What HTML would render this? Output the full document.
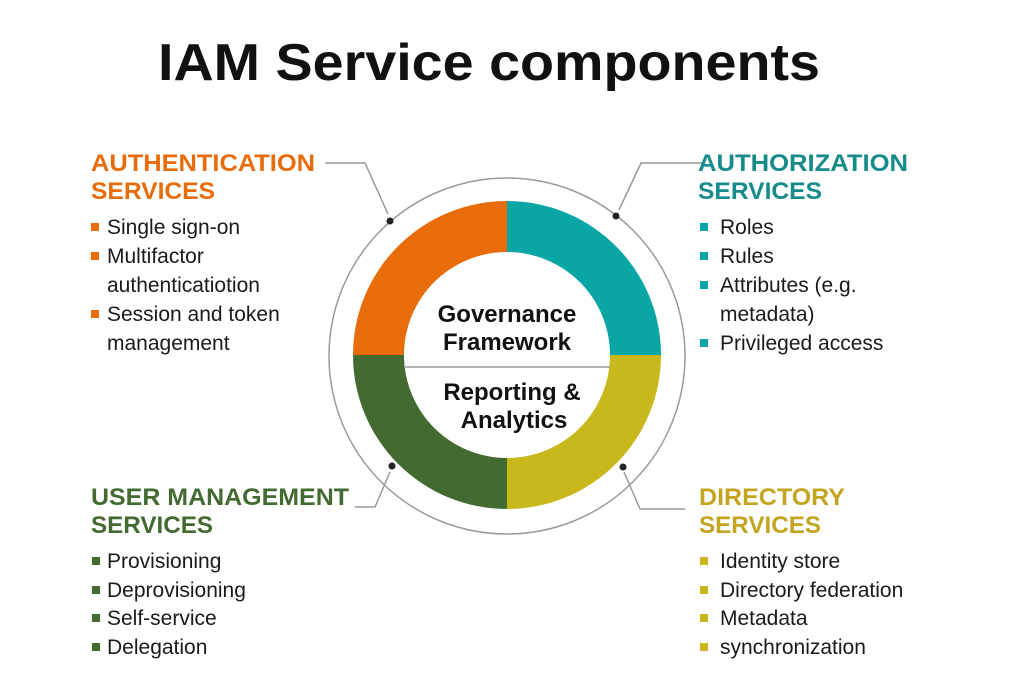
<!DOCTYPE html>
<html><head><meta charset="utf-8"><style>
html,body{margin:0;padding:0;background:#fff}
svg{display:block}
text{font-family:"Liberation Sans",Arial,sans-serif}
.h{font-weight:bold;font-size:24px}
.i{font-size:21px;fill:#1a1a1a}
.c{font-weight:bold;font-size:24px;fill:#111;text-anchor:middle}
</style></head><body>
<svg width="1024" height="683" viewBox="0 0 1024 683" xmlns="http://www.w3.org/2000/svg">
<text x="489" y="80" text-anchor="middle" font-weight="bold" font-size="52" fill="#111" textLength="662" lengthAdjust="spacingAndGlyphs">IAM Service components</text>

<circle cx="507" cy="356" r="178" fill="none" stroke="#9a9a9a" stroke-width="1.5"/>
<path d="M353,355 A154,154 0 0 1 507,201 L507,252 A103,103 0 0 0 404,355 Z" fill="#e86c0a"/>
<path d="M507,201 A154,154 0 0 1 661,355 L610,355 A103,103 0 0 0 507,252 Z" fill="#0aa6a6"/>
<path d="M661,355 A154,154 0 0 1 507,509 L507,458 A103,103 0 0 0 610,355 Z" fill="#c9b81c"/>
<path d="M507,509 A154,154 0 0 1 353,355 L404,355 A103,103 0 0 0 507,458 Z" fill="#436a30"/>
<line x1="404" y1="367" x2="610" y2="367" stroke="#999" stroke-width="1.5"/>
<text class="c" x="507" y="322">Governance</text>
<text class="c" x="507" y="350">Framework</text>
<text class="c" x="512" y="400">Reporting &amp;</text>
<text class="c" x="514" y="428">Analytics</text>

<g fill="none" stroke="#999" stroke-width="1.5">
<polyline points="325,163 365,163 388,214"/>
<polyline points="705,163 641,163 619,210"/>
<polyline points="355,507 375,507 390,472"/>
<polyline points="685,509 640,509 624,472"/>
</g>
<g fill="#222">
<circle cx="390" cy="221" r="3.5"/>
<circle cx="616" cy="216" r="3.5"/>
<circle cx="392" cy="466" r="3.5"/>
<circle cx="623" cy="467" r="3.5"/>
</g>

<!-- Authentication -->
<text class="h" x="91" y="171" fill="#e86c0a" textLength="224" lengthAdjust="spacingAndGlyphs">AUTHENTICATION</text>
<text class="h" x="91" y="199" fill="#e86c0a" textLength="124" lengthAdjust="spacingAndGlyphs">SERVICES</text>
<g fill="#e86c0a"><rect x="91" y="223" width="8" height="8"/><rect x="91" y="252" width="8" height="8"/><rect x="91" y="310" width="8" height="8"/></g>
<text class="i" x="107" y="234">Single sign-on</text>
<text class="i" x="107" y="263">Multifactor</text>
<text class="i" x="107" y="292">authenticatiotion</text>
<text class="i" x="107" y="321">Session and token</text>
<text class="i" x="107" y="350">management</text>

<!-- Authorization -->
<text class="h" x="698" y="171" fill="#168c8a" textLength="210" lengthAdjust="spacingAndGlyphs">AUTHORIZATION</text>
<text class="h" x="698" y="199" fill="#168c8a" textLength="124" lengthAdjust="spacingAndGlyphs">SERVICES</text>
<g fill="#0aa6a6"><rect x="700" y="223" width="8" height="8"/><rect x="700" y="252" width="8" height="8"/><rect x="700" y="281" width="8" height="8"/><rect x="700" y="339" width="8" height="8"/></g>
<text class="i" x="720" y="234">Roles</text>
<text class="i" x="720" y="263">Rules</text>
<text class="i" x="720" y="292">Attributes (e.g.</text>
<text class="i" x="720" y="321">metadata)</text>
<text class="i" x="720" y="350">Privileged access</text>

<!-- User management -->
<text class="h" x="91" y="505" fill="#436a30" textLength="258" lengthAdjust="spacingAndGlyphs">USER MANAGEMENT</text>
<text class="h" x="91" y="533" fill="#436a30" textLength="122" lengthAdjust="spacingAndGlyphs">SERVICES</text>
<g fill="#436a30"><rect x="92" y="557" width="8" height="8"/><rect x="92" y="586" width="8" height="8"/><rect x="92" y="614" width="8" height="8"/><rect x="92" y="643" width="8" height="8"/></g>
<text class="i" x="107" y="568">Provisioning</text>
<text class="i" x="107" y="597">Deprovisioning</text>
<text class="i" x="107" y="625">Self-service</text>
<text class="i" x="107" y="654">Delegation</text>

<!-- Directory -->
<text class="h" x="699" y="505" fill="#c4a520" textLength="146" lengthAdjust="spacingAndGlyphs">DIRECTORY</text>
<text class="h" x="699" y="533" fill="#c4a520" textLength="122" lengthAdjust="spacingAndGlyphs">SERVICES</text>
<g fill="#c9b81c"><rect x="700" y="557" width="8" height="8"/><rect x="700" y="586" width="8" height="8"/><rect x="700" y="614" width="8" height="8"/><rect x="700" y="643" width="8" height="8"/></g>
<text class="i" x="720" y="568">Identity store</text>
<text class="i" x="720" y="597">Directory federation</text>
<text class="i" x="720" y="625">Metadata</text>
<text class="i" x="720" y="654">synchronization</text>
</svg>
</body></html>
